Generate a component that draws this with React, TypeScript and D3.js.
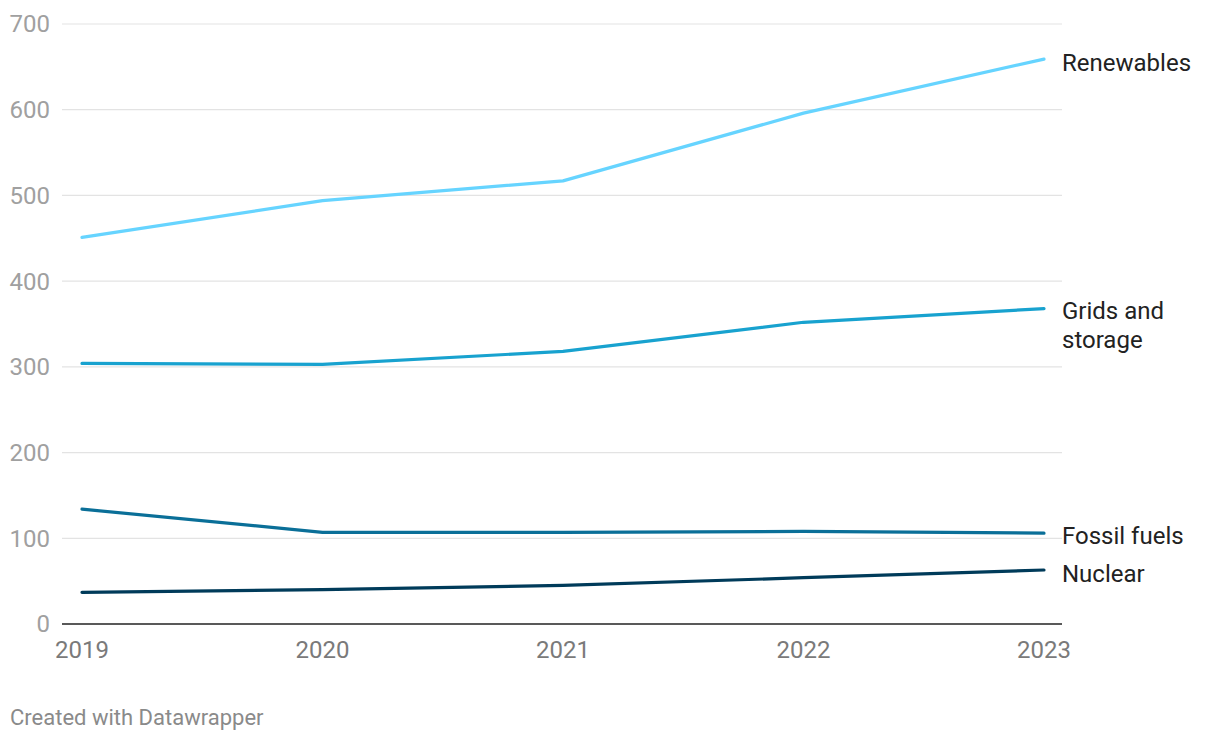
import React from "react";
import * as d3 from "d3";

const years = [2019, 2020, 2021, 2022, 2023];
const renewables = [451, 494, 517, 596, 659];
const gridsStorage = [304, 303, 318, 352, 368];
const fossilFuels = [134, 107, 107, 108, 106];
const nuclear = [37, 40, 45, 54, 63];
const yTicks = [0, 100, 200, 300, 400, 500, 600, 700];

const series = [
  { name: ["Renewables"], values: renewables, color: "#66d4ff", labelY: 63 },
  { name: ["Grids and", "storage"], values: gridsStorage, color: "#18a2cf", labelY: 311 },
  { name: ["Fossil fuels"], values: fossilFuels, color: "#0a6f98", labelY: 536 },
  { name: ["Nuclear"], values: nuclear, color: "#003b5a", labelY: 574 },
];

export default function App() {
  const W = 1220, H = 740;
  const x = d3.scaleLinear().domain([2019, 2023]).range([82, 1044]);
  const y = d3.scaleLinear().domain([0, 700]).range([624, 24]);
  const line = d3.line<number>().x((_, i) => x(years[i])).y((d) => y(d));
  const font = "Roboto, 'Noto Sans', sans-serif";
  return (
    <svg width={W} height={H} style={{ position: "absolute", left: 0, top: 0, background: "#fff" }} fontFamily={font}>
      {yTicks.map((t) => (
        <g key={t}>
          {t > 0 && <line x1={62} x2={1062} y1={y(t)} y2={y(t)} stroke="#e3e3e3" strokeWidth={1.2} />}
          <text x={50} y={y(t)} dy="0.35em" textAnchor="end" fontSize={24} fill="#a0a0a0">{t}</text>
        </g>
      ))}
      <line x1={62} x2={1062} y1={y(0)} y2={y(0)} stroke="#222" strokeWidth={1.5} />
      {years.map((yr) => (
        <text key={yr} x={x(yr)} y={658} textAnchor="middle" fontSize={24} fill="#7a7a7a">{yr}</text>
      ))}
      {series.map((s) => (
        <g key={s.name.join(" ")}>
          <path d={line(s.values) || ""} fill="none" stroke={s.color} strokeWidth={3.2} strokeLinejoin="round" strokeLinecap="round" />
          {s.name.map((n, i) => (
            <text key={n} x={1062} y={s.labelY + i * 29} dy="0.35em" fontSize={24} fill="#222">{n}</text>
          ))}
        </g>
      ))}
      <text x={10} y={717} dy="0.35em" fontSize={22} fill="#8a8a8a">Created with Datawrapper</text>
    </svg>
  );
}
